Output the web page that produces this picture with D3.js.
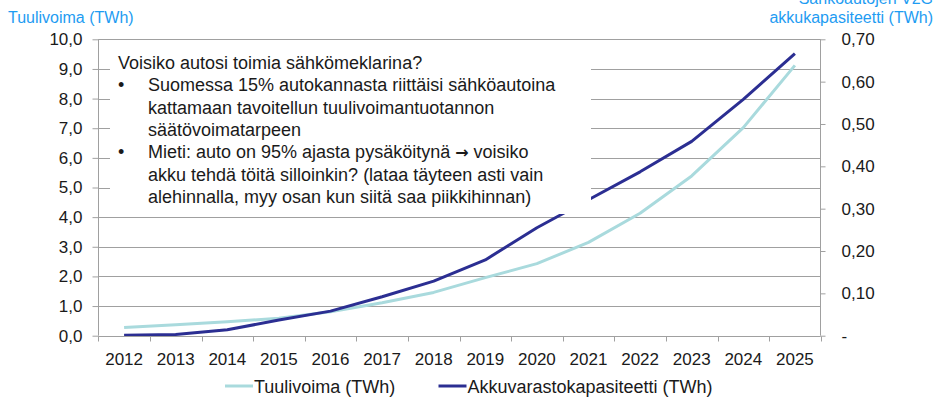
<!DOCTYPE html>
<html><head><meta charset="utf-8">
<script src="https://cdn.jsdelivr.net/npm/d3@7"></script>
<style>body{margin:0;background:#fff} svg{display:block;font-family:"Liberation Sans",Arial,sans-serif}</style>
</head><body><svg id="c" width="938" height="403"></svg>
<script>
const years = [2012,2013,2014,2015,2016,2017,2018,2019,2020,2021,2022,2023,2024,2025];
const tuulivoima = [0.28,0.37,0.47,0.59,0.81,1.11,1.46,1.96,2.43,3.15,4.13,5.39,7.02,9.12];
const akku = [0.001,0.003,0.014,0.037,0.058,0.092,0.129,0.179,0.255,0.321,0.387,0.459,0.558,0.666];
const leftTicks = [0,1,2,3,4,5,6,7,8,9,10];
const rightTicks = [0,0.1,0.2,0.3,0.4,0.5,0.6,0.7];
const seriesNames = ["Tuulivoima (TWh)","Akkuvarastokapasiteetti (TWh)"];
const leftTitle = "Tuulivoima (TWh)";
const rightTitle = ["Sähköautojen V2G","akkukapasiteetti (TWh)"];
const boxTitle = "Voisiko autosi toimia sähkömeklarina?";
const bullets = [
  ["Suomessa 15% autokannasta riittäisi sähköautoina","kattamaan tavoitellun tuulivoimantuotannon","säätövoimatarpeen"],
  ["Mieti: auto on 95% ajasta pysäköitynä \u2192 voisiko","akku tehdä töitä silloinkin? (lataa täyteen asti vain","alehinnalla, myy osan kun siitä saa piikkihinnan)"]
];

const colLight = "#a9dadd", colNavy = "#2b2e92", grid = "#a0a0a0", txt = "#1a1a1a", blue = "#1e9cf2";
const svg = d3.select("#c");
const x0 = 98.3, x1 = 820.7, yTop = 39.3, yBot = 335.7;
const x = d3.scaleBand().domain(years).range([x0, x1]);
const yL = d3.scaleLinear().domain([0,10]).range([yBot, yTop]);
const yR = d3.scaleLinear().domain([0,0.7]).range([yBot, yTop]);

// gridlines
svg.append("g").selectAll("line").data(leftTicks.filter(d=>d>0)).join("line")
  .attr("x1", x0).attr("x2", x1).attr("y1", d=>Math.round(yL(d))+0.5).attr("y2", d=>Math.round(yL(d))+0.5)
  .attr("stroke", grid).attr("stroke-width",1);

// lines
const cx = d => x(d) + x.bandwidth()/2;
svg.append("path").datum(tuulivoima.map((v,i)=>[years[i],v]))
  .attr("d", d3.line().x(d=>cx(d[0])).y(d=>yL(d[1])))
  .attr("fill","none").attr("stroke",colLight).attr("stroke-width",3).attr("stroke-linejoin","round");
svg.append("path").datum(akku.map((v,i)=>[years[i],v]))
  .attr("d", d3.line().x(d=>cx(d[0])).y(d=>yR(d[1])))
  .attr("fill","none").attr("stroke",colNavy).attr("stroke-width",3).attr("stroke-linejoin","round");

// text box
svg.append("rect").attr("x",110).attr("y",43).attr("width",481).attr("height",171).attr("fill","#fff");
const tb = svg.append("g").attr("font-size",18).attr("fill",txt);
tb.append("text").attr("x",118).attr("y",69).text(boxTitle);
let ln = 1;
bullets.forEach(b => {
  tb.append("text").attr("x",118).attr("y",69+ln*22.3).text("\u2022");
  b.forEach(s => {
    const t = tb.append("text").attr("x",148).attr("y",69+ln*22.3);
    const parts = s.split("\u2192");
    parts.forEach((p,k)=>{
      t.append("tspan").text(p);
      if (k < parts.length-1) t.append("tspan").attr("font-family","DejaVu Sans").attr("font-weight","bold").attr("font-size",16).text("\u2192");
    });
    ln++;
  });
});

// left axis
const gl = svg.append("g").attr("transform",`translate(${Math.round(x0)+0.5},0)`)
  .call(d3.axisLeft(yL).tickValues(leftTicks).tickSize(6).tickPadding(10)
    .tickFormat(d=>d.toFixed(1).replace(".",",")));
gl.select(".domain").attr("stroke",grid).attr("d",`M0,${yTop}V${yBot}`);
gl.selectAll(".tick line").attr("stroke",grid);
gl.selectAll(".tick text").attr("font-size",17).attr("fill",txt).attr("font-family","Liberation Sans, Arial, sans-serif");

// right axis
const gr = svg.append("g").attr("transform",`translate(${Math.round(x1)-0.5},0)`)
  .call(d3.axisRight(yR).tickValues(rightTicks).tickSize(5).tickPadding(16)
    .tickFormat(d=>d===0?"-":d.toFixed(2).replace(".",",")));
gr.select(".domain").attr("stroke",grid).attr("d",`M0,${yTop}V${yBot}`);
gr.selectAll(".tick line").attr("stroke",grid);
gr.selectAll(".tick text").attr("font-size",17).attr("fill",txt).attr("font-family","Liberation Sans, Arial, sans-serif");

// bottom axis
const gb = svg.append("g").attr("transform",`translate(0,${Math.round(yBot)+0.5})`)
  .call(d3.axisBottom(x).tickSize(0).tickPadding(16));
gb.select(".domain").attr("stroke",grid).attr("d",`M${x0},0H${x1}`);
gb.selectAll(".tick text").attr("font-size",17).attr("fill",txt).attr("font-family","Liberation Sans, Arial, sans-serif");
gb.append("g").selectAll("line").data(d3.range(years.length+1)).join("line")
  .attr("x1",i=>Math.round(x0+i*x.step())+0.5).attr("x2",i=>Math.round(x0+i*x.step())+0.5)
  .attr("y1",0).attr("y2",5).attr("stroke",grid);

// axis titles
svg.append("text").attr("x",8).attr("y",23).attr("font-size",16).attr("fill",blue).text(leftTitle);
rightTitle.forEach((t,i)=>svg.append("text").attr("x",933).attr("y",4+i*18.7).attr("text-anchor","end")
  .attr("font-size",16).attr("fill",blue).text(t));

// legend
const lg = svg.append("g").attr("font-size",18).attr("fill",txt);
const legX = [225, 438.5];
[colLight, colNavy].forEach((c,i)=>{
  lg.append("line").attr("x1",legX[i]).attr("x2",legX[i]+28).attr("y1",386).attr("y2",386).attr("stroke",c).attr("stroke-width",3);
  lg.append("text").attr("x",legX[i]+29).attr("y",392.5).text(seriesNames[i]);
});
</script></body></html>
